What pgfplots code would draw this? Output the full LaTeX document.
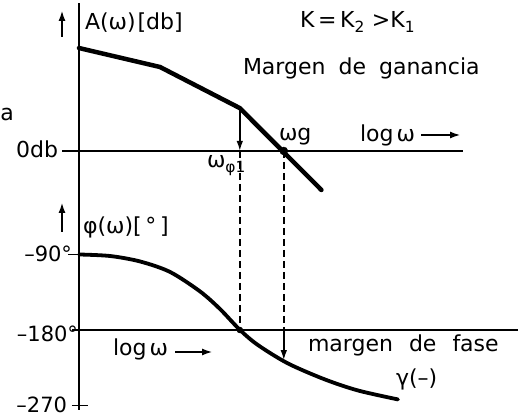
\documentclass[border=0pt]{standalone}
\usepackage{pgfplots}
\pgfplotsset{compat=1.18}
\usepackage{fontspec}
\setmainfont{DejaVu Sans}
\usetikzlibrary{arrows.meta}

\newcommand\lbl{\fontsize{22}{26}\selectfont}
\newcommand\tck{\fontsize{21}{25}\selectfont}

% Bode magnitude (asymptotic, dB) and phase (degrees) over log(omega)
\pgfplotstableread{
x      A
0      39.6
1.0125 32.3
2.01   16.5
3.03  -15.0
}\magnitude
\pgfplotstableread{
x       phi
0       -90
0.3875  -91.8
0.7625  -98.3
1.1375  -110.8
1.5125  -134.0
1.7625  -155.0
2.0125  -180.0
2.2375  -198.0
2.6125  -219.9
3.075   -239.0
3.4875  -252.1
3.9875  -262.8
}\phase

\begin{document}
\begin{tikzpicture}[font=\lbl]
\tikzset{thin line/.style={line width=1.6pt},
         head/.style={-{Latex[length=10pt,width=6.5pt]}}}

% ---------- magnitude diagram ----------
\begin{axis}[at={(0pt,219pt)}, anchor=south west,
  x=80pt, y=2.6pt, scale only axis,
  xmin=-0.9875, xmax=5.4875, ymin=-18.85, ymax=58.08,
  hide axis, clip=false]
  \draw[thin line] (axis cs:-0.2125,0) -- (axis cs:4.8,0);
  \addplot[black, line width=4.5pt, line join=round, line cap=round]
    table[x=x, y=A] {\magnitude};
  \draw[thin line, head] (axis cs:2.01,16.5) -- (axis cs:2.01,0);
  \addplot[only marks, mark=*, mark size=4pt, black] coordinates {(2.56,0)};
  \coordinate (vt) at (axis cs:0,56.9);
  \coordinate (wp) at (axis cs:2.01,0);
  \coordinate (wg) at (axis cs:2.56,0);
\end{axis}

% ---------- phase diagram ----------
\begin{axis}[at={(0pt,0pt)}, anchor=south west,
  x=80pt, y=0.8389pt, scale only axis,
  xmin=-0.9875, xmax=5.4875, ymin=-286.1, ymax=-25.0,
  hide axis, clip=false]
  \draw[thin line] (axis cs:-0.09,-180) -- (axis cs:5.49,-180);
  \draw[thin line] (axis cs:-0.14,-90) -- (axis cs:0,-90);
  \draw[thin line] (axis cs:-0.09,-270) -- (axis cs:0.11,-270);
  \addplot[black, line width=3.8pt, smooth, line cap=round]
    table[x=x, y=phi] {\phase};
  \addplot[only marks, mark=*, mark size=3pt, black] coordinates {(2.01,-180)};
  \draw[thin line, head] (axis cs:2.56,-180) -- (axis cs:2.56,-216);
  \coordinate (vb) at (axis cs:0,-275.4);
  \coordinate (wpl) at (axis cs:2.01,-180);
  \coordinate (wgl) at (axis cs:2.56,-180);
\end{axis}

% common ordinate line and the projection lines
\draw[thin line] (vt) -- (vb);
\draw[thin line, dash pattern=on 7pt off 4pt] (wp) -- (wpl);
\draw[thin line, dash pattern=on 7pt off 4pt] (wg) -- (wgl);

% axis direction arrows
\draw[line width=2.4pt, -{Latex[length=11pt,width=7pt]}] (62pt,382pt) -- (62pt,409pt);
\draw[line width=2.4pt, -{Latex[length=11pt,width=7pt]}] (62pt,187pt) -- (62pt,217pt);
\draw[line width=2.4pt, -{Latex[length=11pt,width=7pt]}] (421pt,284pt) -- (461pt,284pt);
\draw[line width=2.4pt, -{Latex[length=11pt,width=7pt]}] (175pt,67pt) -- (213pt,67pt);

\begin{scope}[every node/.style={inner sep=0pt, outer sep=0pt}]
\node[anchor=base west] at (85pt,389pt) {A(ω)\hspace{2pt}[db]};
\node[anchor=base west] at (300pt,391pt) {K\,=\,K\textsubscript{2} >K\textsubscript{1}};
\node[anchor=base west] at (243pt,344pt) {Margen\hspace{13pt}de\hspace{13pt}ganancia};
\node[anchor=base west] at (279pt,278pt) {ωg};
\node[anchor=base west] at (360pt,277pt) {log\hspace{3pt}ω};
\node[anchor=base east] at (58pt,261pt) {0db};
\node[anchor=base west] at (207pt,251pt) {ω\textsubscript{φ1}};
\node[anchor=base west] at (83pt,185pt) {φ(ω)[\,°\,]};
\node[anchor=base east, font=\tck] at (72pt,157pt) {–90°};
\node[anchor=base east, font=\tck] at (78pt,77pt) {–180°};
\node[anchor=base east, font=\tck] at (67pt,6pt) {–270};
\node[anchor=base west] at (113pt,63pt) {log\hspace{3pt}ω};
\node[anchor=base west] at (308pt,67pt) {margen\hspace{16pt}de\hspace{16pt}fase};
\node[anchor=base west] at (396pt,33pt) {γ(–)};
\node[anchor=base west] at (0.5pt,298pt) {a};
\end{scope}

\pgfresetboundingbox
\path[use as bounding box] (0pt,0pt) rectangle (518pt,419pt);
\end{tikzpicture}
\end{document}
